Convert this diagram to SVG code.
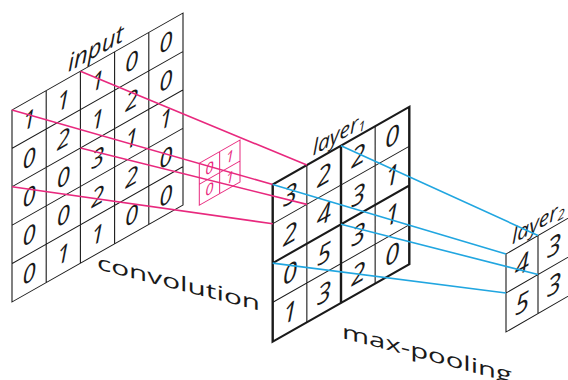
<svg xmlns="http://www.w3.org/2000/svg" width="568" height="380" viewBox="0 0 568 380">
<style>
.g{fill:none;stroke:#1a1a1a;stroke-width:1.1}
.thick{fill:none;stroke:#1a1a1a;stroke-width:2.4}
.d{font-family:"Open Sans","Liberation Sans",sans-serif;font-style:italic;fill:#1a1a1a;text-anchor:middle}
.d1{font-size:24px}
.d2{font-size:26px}
.lbl{font-family:"Open Sans","Liberation Sans",sans-serif;font-style:italic;fill:#1a1a1a}
.cap{font-family:"Open Sans","Liberation Sans",sans-serif;font-size:20px;fill:#1a1a1a}
.k{fill:none;stroke:#e8297e;stroke-width:1}
.kd{font-family:"Open Sans","Liberation Sans",sans-serif;font-style:italic;font-size:15px;fill:#e8297e;text-anchor:middle}
.pink{fill:none;stroke:#e8297e;stroke-width:1.6}
.blue{fill:none;stroke:#21a6e0;stroke-width:1.6}
</style>
<rect width="568" height="380" fill="#ffffff"/>

<g id="input" transform="matrix(1,-0.567,0,1,12,110)">
<path class="g" d="M0 0H171V192H0Z M34.2 0V192 M68.4 0V192 M102.6 0V192 M136.8 0V192 M0 38.4H171 M0 76.8H171 M0 115.2H171 M0 153.6H171"/>
<g class="d d1">
<text x="17.1" y="28">1</text><text x="51.3" y="28">1</text><text x="85.5" y="28">1</text><text x="119.7" y="28">0</text><text x="153.9" y="28">0</text>
<text x="17.1" y="66.4">0</text><text x="51.3" y="66.4">2</text><text x="85.5" y="66.4">1</text><text x="119.7" y="66.4">2</text><text x="153.9" y="66.4">0</text>
<text x="17.1" y="104.8">0</text><text x="51.3" y="104.8">0</text><text x="85.5" y="104.8">3</text><text x="119.7" y="104.8">1</text><text x="153.9" y="104.8">1</text>
<text x="17.1" y="143.2">0</text><text x="51.3" y="143.2">0</text><text x="85.5" y="143.2">2</text><text x="119.7" y="143.2">2</text><text x="153.9" y="143.2">0</text>
<text x="17.1" y="181.6">0</text><text x="51.3" y="181.6">1</text><text x="85.5" y="181.6">1</text><text x="119.7" y="181.6">0</text><text x="153.9" y="181.6">0</text>
</g>
<text class="lbl" x="56" y="-6" font-size="24">input</text>
</g>

<g id="kernel" transform="matrix(1,-0.57,0,1,199.3,163.3)">
<path class="k" d="M0 0H40.7V42H0Z M20.35 0V42 M0 21H40.7"/>
<text class="kd" x="10.2" y="16">0</text><text class="kd" x="30.5" y="16">1</text>
<text class="kd" x="10.2" y="37">0</text><text class="kd" x="30.5" y="37">1</text>
</g>

<g id="layer1" transform="matrix(1,-0.568,0,1,272.7,184.5)">
<path class="g" d="M34.15 0V157.2 M102.45 0V157.2 M0 39.3H136.6 M0 117.9H136.6"/>
<path class="thick" d="M0 0H136.6V157.2H0Z M68.3 0V157.2 M0 78.6H136.6"/>
<g class="d d2">
<text x="17.1" y="28.8">3</text><text x="51.2" y="28.8">2</text><text x="85.4" y="28.8">2</text><text x="119.5" y="28.8">0</text>
<text x="17.1" y="68.1">2</text><text x="51.2" y="68.1">4</text><text x="85.4" y="68.1">3</text><text x="119.5" y="68.1">1</text>
<text x="17.1" y="107.4">0</text><text x="51.2" y="107.4">5</text><text x="85.4" y="107.4">3</text><text x="119.5" y="107.4">1</text>
<text x="17.1" y="146.7">1</text><text x="51.2" y="146.7">3</text><text x="85.4" y="146.7">2</text><text x="119.5" y="146.7">0</text>
</g>
<text class="lbl" x="40" y="-6" font-size="21">layer<tspan font-size="13" dy="3">1</tspan></text>
</g>

<g id="layer2" transform="matrix(1,-0.577,0,1,506,254)">
<path class="g" d="M0 0H64V78H0Z M32 0V78 M0 39H64" stroke-width="1.3"/>
<g class="d d2">
<text x="16" y="28.5">4</text><text x="48" y="28.5">3</text>
<text x="16" y="67.5">5</text><text x="48" y="67.5">3</text>
</g>
<text class="lbl" x="6" y="-6" font-size="21">layer<tspan font-size="13" dy="3">2</tspan></text>
</g>

<g id="connectors">
<path class="pink" d="M12 110L272.7 184.5 M80.4 71.2L306.85 165.1 M80.4 148L306.85 204.4 M12 186.8L272.7 223.8"/>
<path class="blue" d="M272.7 184.5L506 254 M341 145.7L538 235.5 M341 224.3L538 274.5 M272.7 263.1L506 293"/>
</g>

<g id="labels">
<text class="cap" transform="matrix(1,0.256,0,1,97,269)" textLength="163" lengthAdjust="spacingAndGlyphs">convolution</text>
<text class="cap" transform="matrix(1,0.262,0,1,342,338)" textLength="170" lengthAdjust="spacingAndGlyphs">max-pooling</text>
</g>
</svg>
